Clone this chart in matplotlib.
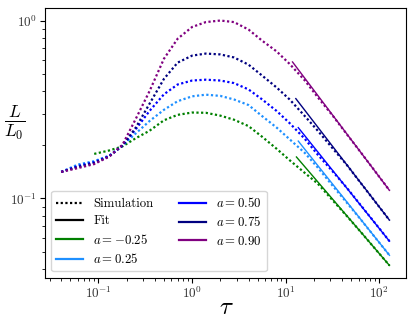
import matplotlib
matplotlib.use("Agg")
import matplotlib.pyplot as plt
from matplotlib.lines import Line2D

plt.rcParams['font.family'] = 'serif'
plt.rcParams['font.serif'] = ['cmr10']
plt.rcParams['mathtext.fontset'] = 'cm'
plt.rcParams['axes.formatter.use_mathtext'] = True
plt.rcParams['axes.unicode_minus'] = False

# spin values and colours
spins = ['-0.25', '0.25', '0.50', '0.75', '0.90']
colors = ['green', 'dodgerblue', 'blue', 'navy', 'purple']

# simulated light curves
tau_sim = [0.04, 0.06, 0.09, 0.13, 0.18, 0.25, 0.35, 0.5, 0.7, 1.0, 1.4, 2.0,
           2.8, 4.0, 5.6, 8.0, 11, 16, 22, 32, 45, 64, 90, 128]
sim_m025 = [None, None, 0.178, 0.186, 0.196, 0.218, 0.24, 0.275, 0.295, 0.304,
            0.303, 0.292, 0.277, 0.255, 0.222, 0.19, 0.164, 0.139, 0.121,
            0.097, 0.0795, 0.0643, 0.0521, 0.042]
sim_025 = [0.141, 0.155, 0.162, 0.174, 0.198, 0.232, 0.272, 0.315, 0.352, 0.375,
           0.383, 0.377, 0.36, 0.335, 0.29, 0.25, 0.215, 0.18, 0.149, 0.117,
           0.0945, 0.0755, 0.0603, 0.0479]
sim_050 = [0.141, 0.152, 0.160, 0.173, 0.198, 0.245, 0.31, 0.385, 0.437, 0.46,
           0.465, 0.46, 0.445, 0.41, 0.36, 0.31, 0.265, 0.216, 0.176, 0.141,
           0.1145, 0.0908, 0.0726, 0.0575]
sim_075 = [0.141, 0.150, 0.158, 0.172, 0.198, 0.25, 0.34, 0.47, 0.58, 0.635,
           0.652, 0.645, 0.62, 0.565, 0.49, 0.42, 0.36, 0.29, 0.24, 0.19,
           0.154, 0.121, 0.096, 0.0755]
sim_090 = [0.141, 0.148, 0.156, 0.172, 0.200, 0.28, 0.40, 0.61, 0.79, 0.92,
           0.98, 1.00, 0.98, 0.89, 0.77, 0.67, 0.57, 0.46, 0.37, 0.29,
           0.229, 0.180, 0.142, 0.111]
sims = [sim_m025, sim_025, sim_050, sim_075, sim_090]

# power-law fits: start/end tau and L/L0 at those points
fit_tau_start = [13.0, 13.6, 13.6, 12.8, 11.8]
fit_tau_end = [128, 128, 128, 128, 128]
fit_L_start = [0.171, 0.21, 0.25, 0.364, 0.585]
fit_L_end = [0.042, 0.0479, 0.0575, 0.0755, 0.111]

fig = plt.figure(figsize=(4.15, 3.25), dpi=100)
ax = fig.add_axes([0.108, 0.1455, 0.870, 0.829])

for vals, c in zip(sims, colors):
    pts = [(t, v) for t, v in zip(tau_sim, vals) if v is not None]
    ax.plot([p[0] for p in pts], [p[1] for p in pts], color=c,
            linestyle=(0, (1, 1.1)), linewidth=1.6)

for i, c in enumerate(colors):
    ax.plot([fit_tau_start[i], fit_tau_end[i]], [fit_L_start[i], fit_L_end[i]],
            color=c, linewidth=1.0)

ax.set_xscale('log')
ax.set_yscale('log')
ax.tick_params(labelsize=9.5, pad=2, labelcolor='#333333')

ax.set_xlabel(r'$\tau$', fontsize=18, va='center')
ax.xaxis.set_label_coords(0.504, -0.112)
ax.set_ylabel(r'$\frac{L}{L_0}$', fontsize=18, rotation=0, va='center')
ax.yaxis.set_label_coords(-0.083, 0.574)

handles = [Line2D([], [], color='black', linestyle=(0, (1, 1.1)), linewidth=1.6),
           Line2D([], [], color='black', linewidth=1.6)]
labels = ['Simulation', 'Fit']
for s, c in zip(spins, colors):
    handles.append(Line2D([], [], color=c, linewidth=1.6))
    labels.append(r'$a = %s$' % s)
ax.legend(handles, labels, loc='lower left', ncol=2, fontsize=9.2,
          labelspacing=0.42, columnspacing=2.0, handlelength=2.1)

fig.savefig('out.png', dpi=100)
